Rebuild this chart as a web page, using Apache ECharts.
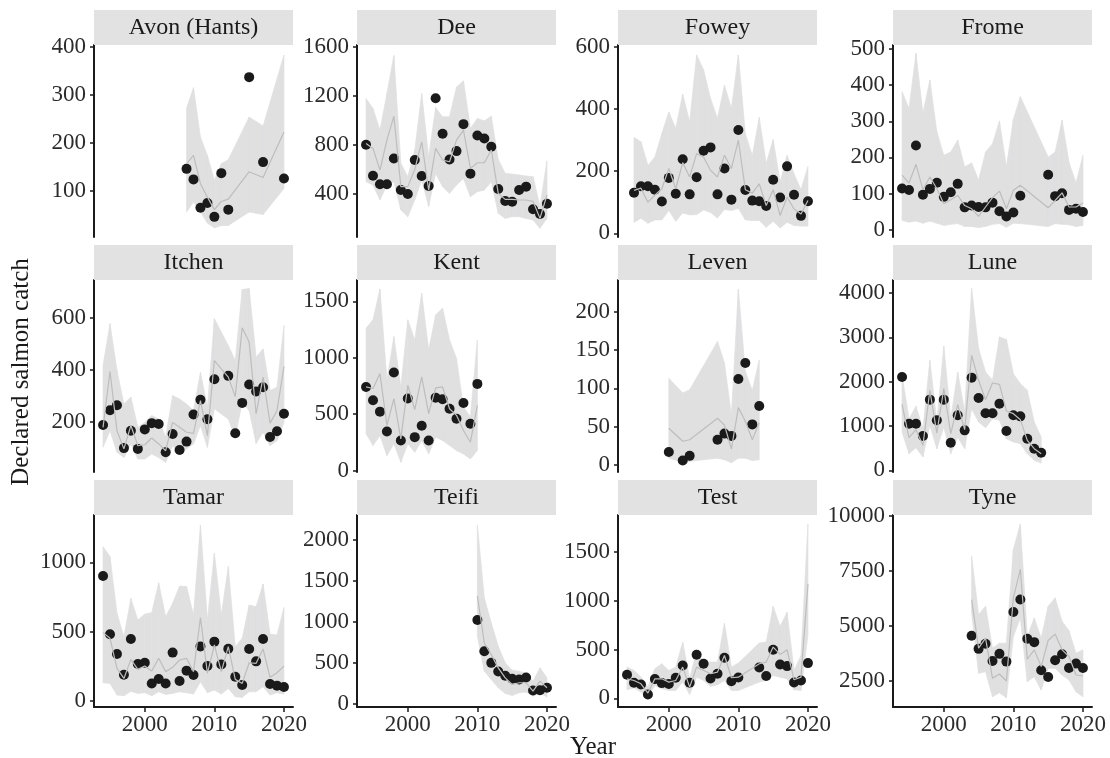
<!DOCTYPE html>
<html>
<head>
<meta charset="utf-8">
<title>Declared salmon catch</title>
<script src="https://cdn.jsdelivr.net/npm/echarts@6/dist/echarts.min.js"></script>
<style>
  html, body { margin: 0; padding: 0; background: #fff; }
  #chart { width: 1110px; height: 758px; }
</style>
</head>
<body>
<div id="chart"></div>
<script>
// catch (points), model median (line) and interval (ribbon) per river
const avonYear  = [2006, 2007, 2008, 2009, 2010, 2011, 2012, 2015, 2017, 2020];
const avonCatch = [146, 124, 65, 75, 46, 137, 61, 337, 160, 126];
const avonLo    = [56, 77, 56, 33, 23, 28, 28, 56, 51, 105];
const avonMid   = [157, 174, 115, 87, 61, 78, 83, 140, 128, 223];
const avonHi    = [272, 315, 212, 174, 122, 157, 165, 254, 235, 383];

const deeYear  = [1994, 1995, 1996, 1997, 1998, 1999, 2000, 2001, 2002, 2003, 2004, 2005, 2006, 2007, 2008, 2009, 2010, 2011, 2012, 2013, 2014, 2015, 2016, 2017, 2018, 2019, 2020];
const deeCatch = [802, 549, 479, 479, 690, 432, 400, 677, 547, 465, 1182, 891, 682, 750, 970, 566, 878, 853, 785, 441, 343, 337, 432, 460, 275, 237, 321];
const deeLo    = [500, 473, 351, 473, 500, 270, 215, 351, 514, 297, 568, 459, 405, 473, 527, 378, 419, 432, 500, 242, 201, 215, 215, 201, 188, 120, 201];
const deeMid   = [813, 772, 595, 840, 1035, 460, 460, 600, 826, 432, 772, 677, 663, 840, 921, 609, 655, 655, 758, 405, 356, 356, 351, 351, 340, 201, 392];
const deeHi    = [1179, 1098, 921, 1220, 1530, 650, 541, 758, 1220, 704, 1105, 1030, 1030, 1274, 1323, 935, 1016, 997, 1035, 682, 568, 563, 555, 547, 541, 297, 671];

const foweyYear  = [1995, 1996, 1997, 1998, 1999, 2000, 2001, 2002, 2003, 2004, 2005, 2006, 2007, 2008, 2009, 2010, 2011, 2012, 2013, 2014, 2015, 2016, 2017, 2018, 2019, 2020];
const foweyCatch = [130, 151, 151, 140, 102, 178, 127, 238, 125, 180, 265, 276, 125, 208, 108, 332, 139, 105, 103, 88, 172, 115, 215, 124, 56, 103];
const foweyLo    = [35, 48, 32, 43, 43, 73, 39, 65, 59, 60, 75, 67, 49, 77, 73, 80, 43, 41, 41, 19, 39, 17, 35, 25, 23, 23];
const foweyMid   = [138, 145, 100, 122, 143, 208, 143, 227, 181, 256, 245, 202, 181, 251, 208, 299, 140, 129, 159, 89, 140, 57, 116, 78, 62, 105];
const foweyHi    = [308, 294, 218, 245, 320, 390, 337, 447, 358, 573, 525, 433, 369, 476, 401, 573, 320, 250, 372, 224, 301, 165, 250, 191, 140, 215];

const fromeYear  = [1994, 1995, 1996, 1997, 1998, 1999, 2000, 2001, 2002, 2003, 2004, 2005, 2006, 2007, 2008, 2009, 2010, 2011, 2015, 2016, 2017, 2018, 2019, 2020];
const fromeCatch = [114, 110, 233, 97, 113, 130, 91, 104, 127, 62, 67, 63, 62, 75, 51, 37, 48, 94, 152, 93, 101, 55, 58, 49];
const fromeLo    = [26, 21, 24, 18, 24, 18, 12, 15, 17, 9, 9, 6, 9, 15, 17, 7, 18, 17, 9, 17, 15, 14, 9, 12];
const fromeMid   = [151, 129, 181, 111, 146, 114, 72, 83, 95, 67, 58, 37, 63, 89, 107, 58, 109, 123, 61, 81, 102, 63, 63, 74];
const fromeHi    = [382, 335, 488, 322, 414, 271, 206, 215, 248, 174, 185, 137, 215, 238, 301, 174, 305, 368, 201, 215, 303, 186, 129, 206];

const itchenYear  = [1994, 1995, 1996, 1997, 1998, 1999, 2000, 2001, 2002, 2003, 2004, 2005, 2006, 2007, 2008, 2009, 2010, 2012, 2013, 2014, 2015, 2016, 2017, 2018, 2019, 2020];
const itchenCatch = [187, 244, 263, 98, 165, 95, 170, 194, 191, 82, 152, 91, 123, 227, 284, 209, 363, 376, 155, 272, 343, 316, 332, 141, 163, 230];
const itchenLo    = [101, 165, 82, 62, 114, 56, 56, 75, 62, 43, 107, 75, 95, 114, 185, 101, 249, 210, 140, 275, 242, 116, 159, 107, 127, 197];
const itchenMid   = [178, 393, 165, 95, 185, 107, 111, 137, 114, 88, 197, 178, 159, 155, 281, 146, 435, 371, 296, 561, 506, 230, 371, 194, 242, 412];
const itchenHi    = [416, 577, 397, 268, 294, 178, 197, 223, 210, 140, 300, 287, 268, 242, 390, 255, 596, 493, 435, 708, 712, 448, 480, 320, 332, 570];

const kentYear  = [1994, 1995, 1996, 1997, 1998, 1999, 2000, 2001, 2002, 2003, 2004, 2005, 2006, 2007, 2008, 2009, 2010];
const kentCatch = [742, 624, 523, 347, 870, 267, 639, 297, 398, 267, 647, 633, 549, 460, 600, 416, 769];
const kentLo    = [327, 223, 312, 134, 238, 74, 238, 163, 267, 148, 297, 267, 223, 178, 148, 104, 178];
const kentMid   = [742, 728, 861, 401, 639, 282, 757, 540, 832, 505, 734, 742, 549, 490, 356, 252, 579];
const kentHi    = [1262, 1337, 1610, 802, 1188, 742, 1337, 1158, 1574, 1069, 1381, 1440, 1158, 995, 564, 475, 1158];

const levenYear  = [2000, 2002, 2003, 2007, 2008, 2009, 2010, 2011, 2012, 2013];
const levenCatch = [17, 6, 12, 33, 41, 38, 112, 133, 53, 77];
const levenLo    = [9, 4, 5, 9, 7, 3, 9, 9, 6, 7];
const levenMid   = [48, 31, 33, 61, 52, 21, 75, 57, 33, 55];
const levenHi    = [113, 94, 98, 161, 133, 65, 229, 122, 97, 137];

const luneYear  = [1994, 1995, 1996, 1997, 1998, 1999, 2000, 2001, 2002, 2003, 2004, 2005, 2006, 2007, 2008, 2009, 2010, 2011, 2012, 2013, 2014];
const luneCatch = [2105, 1053, 1053, 774, 1594, 1128, 1594, 624, 1241, 902, 2090, 1632, 1286, 1286, 1504, 887, 1241, 1218, 714, 489, 398];
const luneLo    = [865, 376, 511, 301, 1015, 489, 977, 376, 752, 489, 1391, 1090, 962, 1165, 1128, 714, 639, 602, 376, 226, 165];
const luneMid   = [1489, 737, 917, 564, 1805, 842, 1842, 827, 1481, 917, 2594, 2030, 1594, 1970, 1940, 1338, 1278, 1143, 677, 489, 376];
const luneHi    = [2143, 1165, 1444, 940, 2481, 1090, 2797, 1165, 2218, 1316, 4098, 2744, 2218, 2030, 3008, 2947, 2180, 1955, 1805, 1090, 752];

const tamarYear  = [1994, 1995, 1996, 1997, 1998, 1999, 2000, 2001, 2002, 2003, 2004, 2005, 2006, 2007, 2008, 2009, 2010, 2011, 2012, 2013, 2014, 2015, 2016, 2017, 2018, 2019, 2020];
const tamarCatch = [901, 481, 339, 190, 447, 267, 276, 127, 159, 127, 349, 144, 219, 188, 394, 252, 428, 264, 377, 175, 115, 375, 286, 447, 123, 111, 101];
const tamarLo    = [132, 127, 43, 38, 70, 55, 60, 38, 67, 48, 55, 67, 60, 50, 139, 60, 79, 50, 91, 31, 26, 67, 67, 103, 43, 60, 50];
const tamarMid   = [493, 452, 236, 163, 300, 228, 252, 216, 308, 212, 243, 296, 308, 212, 601, 200, 404, 212, 392, 156, 127, 276, 272, 375, 171, 204, 252];
const tamarHi    = [1113, 1041, 632, 464, 740, 584, 627, 637, 853, 608, 704, 829, 825, 620, 1269, 584, 1065, 620, 969, 392, 452, 692, 680, 844, 483, 476, 675];

const teifiYear  = [2010, 2011, 2012, 2013, 2014, 2015, 2016, 2017, 2018, 2019, 2020];
const teifiCatch = [1022, 641, 499, 394, 341, 304, 296, 320, 162, 166, 195];
const teifiLo    = [824, 398, 296, 195, 126, 101, 134, 142, 93, 134, 81];
const teifiMid   = [1318, 742, 600, 438, 316, 235, 256, 256, 154, 276, 195];
const teifiHi    = [2183, 1290, 986, 702, 499, 410, 398, 369, 276, 438, 316];

const testYear  = [1994, 1995, 1996, 1997, 1998, 1999, 2000, 2001, 2002, 2003, 2004, 2005, 2006, 2007, 2008, 2009, 2010, 2013, 2014, 2015, 2016, 2017, 2018, 2019, 2020];
const testCatch = [242, 160, 143, 41, 198, 157, 147, 212, 338, 160, 447, 355, 205, 253, 416, 177, 215, 317, 229, 498, 348, 331, 164, 184, 362];
const testLo    = [89, 109, 65, 14, 133, 99, 82, 82, 167, 41, 218, 184, 123, 140, 184, 82, 82, 167, 184, 235, 218, 201, 89, 82, 650];
const testMid   = [201, 184, 150, 55, 201, 201, 167, 184, 321, 116, 321, 287, 253, 270, 440, 212, 218, 355, 372, 526, 451, 498, 191, 218, 1174];
const testHi    = [321, 287, 218, 116, 304, 355, 287, 321, 577, 201, 491, 372, 372, 372, 771, 321, 362, 567, 577, 942, 737, 884, 287, 440, 1788];

const tyneYear  = [2004, 2005, 2006, 2007, 2008, 2009, 2010, 2011, 2012, 2013, 2014, 2015, 2016, 2017, 2018, 2019, 2020];
const tyneCatch = [4543, 3948, 4177, 3399, 3720, 3369, 5625, 6189, 4405, 4253, 2973, 2668, 3430, 3704, 3079, 3277, 3079];
const tyneLo    = [5579, 2835, 2912, 1768, 1951, 1723, 4512, 5351, 2454, 2683, 2073, 3064, 3064, 2759, 2530, 1997, 1768];
const tyneMid   = [6189, 3979, 4436, 2607, 2805, 2485, 6265, 7561, 3476, 3902, 3140, 4329, 4619, 3902, 3598, 2759, 2713];
const tyneHi    = [8171, 5503, 5884, 3979, 4207, 4207, 8476, 9619, 4512, 5351, 4436, 5884, 6265, 5198, 4771, 3750, 3902];

// tick labels
const yearTicks   = [2000, 2010, 2020];
const avonTicks   = [100, 200, 300, 400];
const deeTicks    = [400, 800, 1200, 1600];
const foweyTicks  = [0, 200, 400, 600];
const fromeTicks  = [0, 100, 200, 300, 400, 500];
const itchenTicks = [200, 400, 600];
const kentTicks   = [0, 500, 1000, 1500];
const levenTicks  = [0, 50, 100, 150, 200];
const luneTicks   = [0, 1000, 2000, 3000, 4000];
const tamarTicks  = [0, 500, 1000];
const teifiTicks  = [0, 500, 1000, 1500, 2000];
const testTicks   = [0, 500, 1000, 1500];
const tyneTicks   = [2500, 5000, 7500, 10000];

const panels = [
  { name: 'Avon (Hants)', year: avonYear, obs: avonCatch, lo: avonLo, mid: avonMid, hi: avonHi, ticks: avonTicks, range: [4, 404] },
  { name: 'Dee', year: deeYear, obs: deeCatch, lo: deeLo, mid: deeMid, hi: deeHi, ticks: deeTicks, range: [49, 1616] },
  { name: 'Fowey', year: foweyYear, obs: foweyCatch, lo: foweyLo, mid: foweyMid, hi: foweyHi, ticks: foweyTicks, range: [-12, 605] },
  { name: 'Frome', year: fromeYear, obs: fromeCatch, lo: fromeLo, mid: fromeMid, hi: fromeHi, ticks: fromeTicks, range: [-20, 511] },
  { name: 'Itchen', year: itchenYear, obs: itchenCatch, lo: itchenLo, mid: itchenMid, hi: itchenHi, ticks: itchenTicks, range: [6, 745] },
  { name: 'Kent', year: kentYear, obs: kentCatch, lo: kentLo, mid: kentMid, hi: kentHi, ticks: kentTicks, range: [-12, 1690] },
  { name: 'Leven', year: levenYear, obs: levenCatch, lo: levenLo, mid: levenMid, hi: levenHi, ticks: levenTicks, range: [-9, 241] },
  { name: 'Lune', year: luneYear, obs: luneCatch, lo: luneLo, mid: luneMid, hi: luneHi, ticks: luneTicks, range: [-36, 4290] },
  { name: 'Tamar', year: tamarYear, obs: tamarCatch, lo: tamarLo, mid: tamarMid, hi: tamarHi, ticks: tamarTicks, range: [-43, 1341] },
  { name: 'Teifi', year: teifiYear, obs: teifiCatch, lo: teifiLo, mid: teifiMid, hi: teifiHi, ticks: teifiTicks, range: [-40, 2305] },
  { name: 'Test', year: testYear, obs: testCatch, lo: testLo, mid: testMid, hi: testHi, ticks: testTicks, range: [-88, 1880] },
  { name: 'Tyne', year: tyneYear, obs: tyneCatch, lo: tyneLo, mid: tyneMid, hi: tyneHi, ticks: tyneTicks, range: [1305, 10032] }
];

// layout
const colLeft = [94, 357, 618, 893];
const rowTop = [45, 280, 515];
const panelW = 199, panelH = 192, stripH = 35;
const xRange = [1992.7, 2021.3];
const font = 'Liberation Serif';
const ink = '#1a1a1a';
const textCol = '#2b2b2b';
const ribbonCol = '#e0e0e1';

// one trapezoid of the interval band between two consecutive years
function renderBand(params, api) {
  const a = api.coord([api.value(0), api.value(1)]);
  const b = api.coord([api.value(3), api.value(4)]);
  const c = api.coord([api.value(3), api.value(5)]);
  const d = api.coord([api.value(0), api.value(2)]);
  return {
    type: 'polygon',
    shape: { points: [a, b, c, d] },
    style: { fill: ribbonCol, stroke: ribbonCol, lineWidth: 0.7 }
  };
}

const grids = [], xAxes = [], yAxes = [], series = [], graphics = [];

panels.forEach(function (p, i) {
  const left = colLeft[i % 4];
  const top = rowTop[Math.floor(i / 4)];
  const bottomRow = i >= 8;

  grids.push({ left: left, top: top, width: panelW, height: panelH, containLabel: false });

  xAxes.push({
    type: 'value', gridIndex: i, min: xRange[0], max: xRange[1], show: bottomRow,
    axisLine: { show: true, onZero: false, lineStyle: { color: ink, width: 2 } },
    axisTick: { show: true, customValues: yearTicks, length: 5, lineStyle: { color: ink, width: 1.5 } },
    axisLabel: { customValues: yearTicks, formatter: function (v) { return String(v); },
      fontFamily: font, fontSize: 23, color: textCol, margin: 6 },
    splitLine: { show: false }
  });

  yAxes.push({
    type: 'value', gridIndex: i, min: p.range[0], max: p.range[1],
    axisLine: { show: true, onZero: false, lineStyle: { color: ink, width: 2 } },
    axisTick: { show: true, customValues: p.ticks, length: 4, lineStyle: { color: ink, width: 1.5 } },
    axisLabel: { customValues: p.ticks, formatter: function (v) { return String(v); },
      fontFamily: font, fontSize: 23, color: textCol, margin: 8 },
    splitLine: { show: false }
  });

  const bandData = [];
  for (let k = 0; k < p.year.length - 1; k++) {
    bandData.push([p.year[k], p.lo[k], p.hi[k], p.year[k + 1], p.lo[k + 1], p.hi[k + 1]]);
  }
  series.push({
    type: 'custom', xAxisIndex: i, yAxisIndex: i, silent: true, clip: true,
    renderItem: renderBand,
    encode: { x: [0, 3], y: [1, 2, 4, 5] },
    data: bandData
  });
  series.push({
    type: 'line', xAxisIndex: i, yAxisIndex: i, silent: true,
    symbol: 'none', lineStyle: { color: '#bdbdbd', width: 1.2 },
    data: p.year.map(function (y, k) { return [y, p.mid[k]]; })
  });
  series.push({
    type: 'scatter', xAxisIndex: i, yAxisIndex: i, silent: true,
    symbolSize: 10, itemStyle: { color: ink, opacity: 1 },
    data: p.year.map(function (y, k) { return [y, p.obs[k]]; })
  });

  // facet strip
  graphics.push({
    type: 'rect', left: left, top: top - stripH, z: 10,
    shape: { width: panelW, height: stripH }, style: { fill: '#e2e2e3' }
  });
  graphics.push({
    type: 'text', x: left + panelW / 2, y: top - stripH / 2, z: 11,
    style: { text: p.name, font: '24px "' + font + '"', fill: ink, textAlign: 'center', textVerticalAlign: 'middle' }
  });
});

graphics.push({
  type: 'text', x: 21, y: 372, rotation: Math.PI / 2,
  style: { text: 'Declared salmon catch', font: '25px "' + font + '"', fill: ink, textAlign: 'center', textVerticalAlign: 'middle' }
});
graphics.push({
  type: 'text', x: 593, y: 747,
  style: { text: 'Year', font: '25px "' + font + '"', fill: ink, textAlign: 'center', textVerticalAlign: 'middle' }
});

const chart = echarts.init(document.getElementById('chart'), null, { renderer: 'canvas' });
chart.setOption({
  backgroundColor: '#ffffff',
  animation: false,
  grid: grids,
  xAxis: xAxes,
  yAxis: yAxes,
  series: series,
  graphic: graphics
});
</script>
</body>
</html>
